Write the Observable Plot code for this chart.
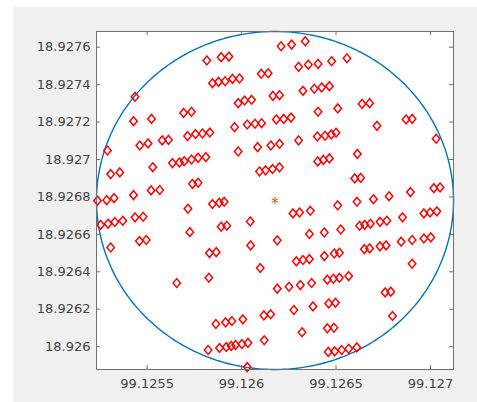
<!DOCTYPE html>
<html><head><meta charset="utf-8">
<script src="https://cdn.jsdelivr.net/npm/d3@7"></script>
<script src="https://cdn.jsdelivr.net/npm/@observablehq/plot@0.6"></script>
<style>
html,body{margin:0;padding:0;background:#fff;width:477px;height:402px;overflow:hidden;}
#bg{position:absolute;left:13px;top:7px;width:464px;height:395px;background:#f0f0f0;}
#chart{position:absolute;left:0;top:0;}
</style></head><body><div id="bg"></div><div id="chart"></div>
<script>
// Point positions (longitude, latitude)
const lon = [
99.126337,99.126209,99.126265,99.125816,99.125892,99.125933,99.126558,99.126477,99.126302,99.126353,
99.126405,99.126104,99.126141,99.125846,99.125878,99.125913,99.125952,99.125989,99.126325,99.126385,
99.126424,99.126465,99.125436,99.126166,99.126201,99.125982,99.126016,99.126053,99.126638,99.126678,
99.126509,99.126405,99.125693,99.125735,99.125523,99.125428,99.126184,99.126223,99.126262,99.125963,
99.126030,99.126071,99.126106,99.126717,99.126871,99.126903,99.125714,99.125756,99.125793,99.125832,
99.126401,99.126442,99.126475,99.126500,99.125461,99.125505,99.125580,99.125613,99.126302,99.127030,
99.126085,99.126155,99.126201,99.125290,99.125982,99.126613,99.125634,99.125671,99.125696,99.125735,
99.125770,99.125811,99.126403,99.126433,99.126465,99.125530,99.126095,99.126127,99.126164,99.126201,
99.125307,99.125355,99.126599,99.126631,99.125740,99.125770,99.125521,99.125567,99.125428,99.126894,
99.127018,99.127051,99.126781,99.126698,99.125237,99.125286,99.125325,99.125846,99.125882,99.125908,
99.126509,99.126611,99.125716,99.126272,99.126307,99.126364,99.125436,99.125479,99.126852,99.126965,
99.126998,99.127034,99.126046,99.125254,99.125293,99.125329,99.125371,99.125892,99.125922,99.126625,
99.126652,99.126682,99.126733,99.126769,99.126525,99.126438,99.126359,99.125726,99.125459,99.125495,
99.126189,99.126845,99.126903,99.126965,99.127002,99.125307,99.126048,99.126650,99.126678,99.126733,
99.126765,99.125830,99.125866,99.126290,99.126325,99.126359,99.126438,99.126491,99.126518,99.126099,
99.126903,99.125827,99.126454,99.126486,99.126518,99.126567,99.125657,99.126189,99.126251,99.126311,
99.126371,99.126760,99.126790,99.126461,99.126497,99.126378,99.126277,99.126118,99.126154,99.126799,
99.125864,99.125915,99.125949,99.126007,99.126454,99.126489,99.126320,99.126120,99.125823,99.125883,
99.125919,99.125945,99.125968,99.126002,99.126034,99.126459,99.126493,99.126530,99.126567,99.126610,
99.126030
];
const lat = [
18.927632,18.927605,18.927614,18.927529,18.927547,18.927550,18.927541,18.927525,18.927495,18.927507,
18.927511,18.927458,18.927461,18.927408,18.927415,18.927418,18.927431,18.927433,18.927367,18.927378,
18.927385,18.927392,18.927335,18.927340,18.927344,18.927301,18.927315,18.927319,18.927297,18.927301,
18.927273,18.927255,18.927249,18.927255,18.927217,18.927205,18.927214,18.927217,18.927224,18.927173,
18.927187,18.927191,18.927194,18.927180,18.927214,18.927217,18.927125,18.927136,18.927139,18.927144,
18.927123,18.927127,18.927134,18.927143,18.927075,18.927086,18.927102,18.927105,18.927102,18.927111,
18.927066,18.927075,18.927084,18.927048,18.927043,18.927030,18.926981,18.926984,18.926991,18.927000,
18.927009,18.927013,18.926990,18.926998,18.927006,18.926959,18.926936,18.926942,18.926949,18.926958,
18.926922,18.926931,18.926899,18.926902,18.926870,18.926876,18.926835,18.926837,18.926810,18.926826,
18.926847,18.926851,18.926804,18.926788,18.926780,18.926783,18.926794,18.926762,18.926769,18.926774,
18.926755,18.926774,18.926737,18.926712,18.926717,18.926726,18.926691,18.926694,18.926691,18.926712,
18.926717,18.926723,18.926669,18.926651,18.926657,18.926666,18.926673,18.926641,18.926646,18.926646,
18.926651,18.926657,18.926667,18.926673,18.926626,18.926610,18.926602,18.926612,18.926564,18.926570,
18.926568,18.926561,18.926570,18.926578,18.926584,18.926530,18.926541,18.926521,18.926525,18.926536,
18.926541,18.926500,18.926505,18.926456,18.926463,18.926468,18.926484,18.926498,18.926502,18.926420,
18.926443,18.926368,18.926358,18.926363,18.926368,18.926377,18.926340,18.926310,18.926320,18.926329,
18.926340,18.926290,18.926294,18.926231,18.926235,18.926215,18.926196,18.926167,18.926173,18.926164,
18.926121,18.926130,18.926137,18.926146,18.926098,18.926101,18.926077,18.926034,18.925982,18.925993,
18.925998,18.926004,18.926009,18.926014,18.926020,18.925972,18.925975,18.925982,18.925989,18.925996,
18.925891
];
// Circle centre and radii (degrees lon, degrees lat)
const centerLon = [99.126177];
const centerLat = [18.926781];
const radiusLon = 0.000945;
const radiusLat = 0.000903;
// Ticks
const xTicks = [99.1255, 99.126, 99.1265, 99.127];
const xTickLabels = ["99.1255", "99.126", "99.1265", "99.127"];
const yTicks = [18.926, 18.9262, 18.9264, 18.9266, 18.9268, 18.927, 18.9272, 18.9274, 18.9276];
const yTickLabels = ["18.926", "18.9262", "18.9264", "18.9266", "18.9268", "18.927", "18.9272", "18.9274", "18.9276"];

const points = lon.map((x, i) => ({x, y: lat[i]}));
const center = centerLon.map((x, i) => ({x, y: centerLat[i]}));
const circle = d3.range(0, 361, 1).map(a => ({
  x: centerLon[0] + radiusLon * Math.cos(a * Math.PI / 180),
  y: centerLat[0] + radiusLat * Math.sin(a * Math.PI / 180)
}));

const W = 477, H = 402, mL = 96, mR = 24, mT = 31, mB = 33;
const plotW = W - mL - mR, plotH = H - mT - mB, tickLen = 4;
const frameColor = "#707070";

const diamond = {
  draw(ctx, size) {
    const r = Math.sqrt(size / Math.PI);
    ctx.moveTo(0, -r);
    ctx.lineTo(0.85 * r, 0);
    ctx.lineTo(0, r);
    ctx.lineTo(-0.85 * r, 0);
    ctx.closePath();
  }
};

const chart = Plot.plot({
  width: W, height: H,
  marginLeft: mL, marginRight: mR, marginTop: mT, marginBottom: mB,
  style: {fontFamily: "DejaVu Sans", fontSize: "13px", color: "#444", background: "transparent"},
  x: {domain: [centerLon[0] - radiusLon, centerLon[0] + radiusLon]},
  y: {domain: [centerLat[0] - radiusLat, centerLat[0] + radiusLat]},
  marks: [
    Plot.frame({fill: "white", stroke: "none"}),
    Plot.line(circle, {x: "x", y: "y", stroke: "#0072BD", strokeWidth: 1.4}),
    Plot.dot(points, {x: "x", y: "y", symbol: diamond, r: 4.4, stroke: "#ff0000", strokeWidth: 1.5, fill: "none"}),
    Plot.dot(center, {x: "x", y: "y", symbol: "asterisk", r: 3.5, stroke: "#D95319", strokeWidth: 1}),
    Plot.tickY(yTicks, {y: d => d, insetRight: plotW - tickLen, stroke: frameColor}),
    Plot.tickY(yTicks, {y: d => d, insetLeft: plotW - tickLen, stroke: frameColor}),
    Plot.tickX(xTicks, {x: d => d, insetTop: plotH - tickLen, stroke: frameColor}),
    Plot.tickX(xTicks, {x: d => d, insetBottom: plotH - tickLen, stroke: frameColor}),
    Plot.axisX({ticks: xTicks, tickFormat: d => xTickLabels[xTicks.indexOf(d)], tickSize: 0, tickPadding: 9, label: null}),
    Plot.axisY({ticks: yTicks, tickFormat: d => yTickLabels[yTicks.indexOf(d)], tickSize: 0, tickPadding: 6, label: null}),
    Plot.frame({stroke: frameColor, strokeWidth: 1})
  ]
});
document.getElementById("chart").appendChild(chart);
</script>
</body></html>
